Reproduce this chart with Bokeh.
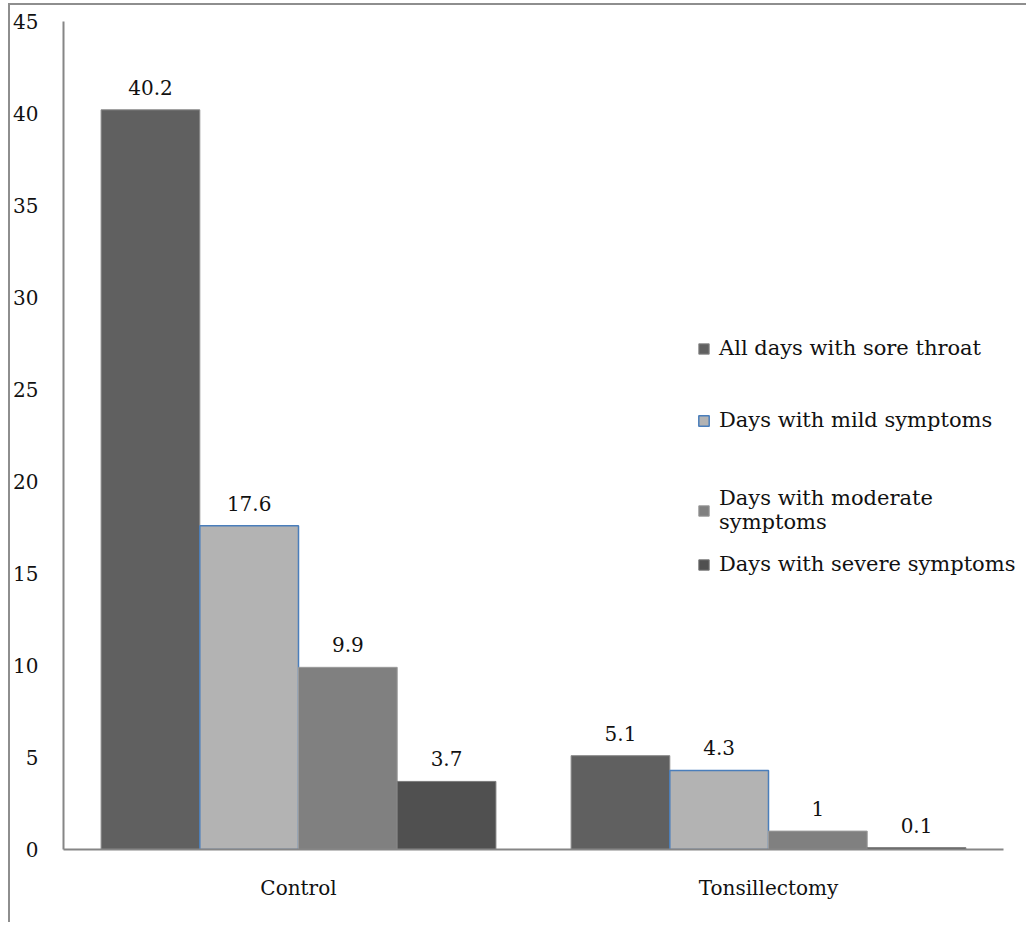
from bokeh.plotting import figure
from bokeh.models import ColumnDataSource, Range1d, Legend, LegendItem, FixedTicker
from bokeh.transform import dodge
from bokeh.embed import file_html
from bokeh.resources import INLINE

groups = ["Control", "Tonsillectomy"]
series_names = ["All days with sore throat", "Days with mild symptoms",
                "Days with moderate\nsymptoms", "Days with severe symptoms"]
all_days = [40.2, 5.1]
mild = [17.6, 4.3]
moderate = [9.9, 1.0]
severe = [3.7, 0.1]
y_ticks = [0, 5, 10, 15, 20, 25, 30, 35, 40, 45]

series = [all_days, mild, moderate, severe]
fills = ["#606060", "#b3b3b3", "#808080", "#505050"]
edges = ["#8a8a8a", "#4a7ebb", "#9a9a9a", "#7a7a7a"]

FONT = "DejaVu Serif"

# numeric category centres (one unit per category)
centres = [i + 0.5 for i in range(len(groups))]

p = figure(x_range=Range1d(0, len(groups) * 962 / 940),
           y_range=(0, 45), width=1018, height=919,
           output_backend="svg", toolbar_location=None,
           min_border_left=53, min_border_right=3, min_border_top=16,
           min_border_bottom=75)
p.styles = {"margin-left": "8px", "margin-top": "3px",
            "border-left": "2px solid #8e8e8e", "border-top": "2px solid #8e8e8e"}
p.outline_line_color = None
p.xgrid.grid_line_color = None
p.ygrid.grid_line_color = None

bw = 0.21
offsets = [-1.5 * bw, -0.5 * bw, 0.5 * bw, 1.5 * bw]
renderers = []
for name, vals, fc, ec, off in zip(series_names, series, fills, edges, offsets):
    src = ColumnDataSource(dict(x=centres, value=vals,
                                label=[f"{v:g}" for v in vals]))
    r = p.vbar(x=dodge("x", off), top="value", width=bw,
               source=src, fill_color=fc, line_color=ec,
               line_width=1.5 if ec == "#4a7ebb" else 1)
    p.text(x=dodge("x", off), y="value", text="label",
           source=src, text_align="center", text_baseline="bottom",
           y_offset=-15, text_font_size="20px", text_color="#111111",
           text_font={"value": FONT})
    renderers.append(r)

common = dict(padding=0, margin=0, label_standoff=9, glyph_width=13,
              glyph_height=13, label_text_font=FONT, label_text_font_size="21px",
              label_text_color="#111111", border_line_color=None,
              background_fill_alpha=0, label_text_line_height=1.4)
legend_a = Legend(items=[LegendItem(label=series_names[i], renderers=[renderers[i]])
                         for i in (0, 1)],
                  location=(634, 417), spacing=48, **common)
legend_b = Legend(items=[LegendItem(label=series_names[i], renderers=[renderers[i]])
                         for i in (2, 3)],
                  location=(634, 273), spacing=18, **common)
p.add_layout(legend_a, "center")
p.add_layout(legend_b, "center")

for ax in (p.xaxis[0], p.yaxis[0]):
    ax.axis_line_color = "#868686"
    ax.axis_line_width = 2
    ax.major_tick_line_color = None
    ax.minor_tick_line_color = None
    ax.major_label_text_font = FONT
    ax.major_label_text_font_size = "20px"
    ax.major_label_text_color = "#111111"

p.xaxis.bounds = (0, len(groups))
p.xaxis.ticker = FixedTicker(ticks=centres, minor_ticks=[])
p.xaxis.major_label_overrides = {c: g for c, g in zip(centres, groups)}
p.yaxis.ticker = y_ticks
p.yaxis.major_label_standoff = 19
p.xaxis.major_label_standoff = 20

open("out.html", "w").write(file_html(p, INLINE))
